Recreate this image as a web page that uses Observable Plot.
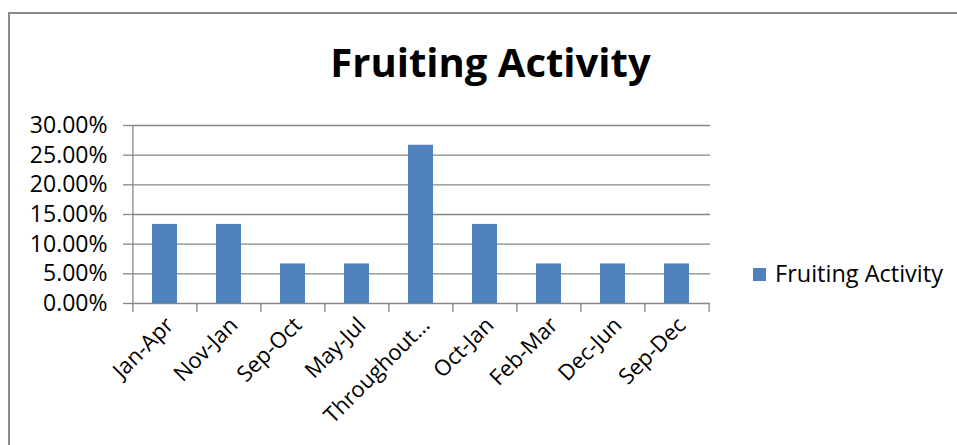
<!DOCTYPE html>
<html>
<head>
<meta charset="utf-8">
<script src="https://cdn.jsdelivr.net/npm/d3@7"></script>
<script src="https://cdn.jsdelivr.net/npm/@observablehq/plot@0.6"></script>
<style>
  html, body { margin: 0; padding: 0; background: #fff; }
  #wrap { position: relative; width: 957px; height: 445px; overflow: hidden; font-family: "Open Sans", sans-serif; color: #000; }
  #border { position: absolute; left: 8px; top: 12px; width: 1200px; height: 1200px; border-left: 2px solid #8a8a8a; border-top: 2px solid #8a8a8a; box-sizing: border-box; }
  #chart { position: absolute; left: 0; top: 0; }
  #title { position: absolute; left: 0; width: 981px; top: 42px; text-align: center; font-weight: 700; font-size: 40px; line-height: 1; white-space: nowrap; }
  #swatch { position: absolute; left: 753px; top: 268px; width: 13px; height: 13px; background: #4F81BD; }
  #legendText { position: absolute; left: 775px; top: 262px; font-size: 23.5px; line-height: 1; white-space: nowrap; }
</style>
</head>
<body>
<div id="wrap">
  <div id="border"></div>
  <div id="chart"></div>
  <div id="title"></div>
  <div id="swatch"></div>
  <div id="legendText"></div>
</div>
<script>
const titleText = "Fruiting Activity";
const seriesName = "Fruiting Activity";
const categories = ["Jan-Apr", "Nov-Jan", "Sep-Oct", "May-Jul", "Throughout…", "Oct-Jan", "Feb-Mar", "Dec-Jun", "Sep-Dec"];
const values = [0.1333, 0.1333, 0.0667, 0.0667, 0.2667, 0.1333, 0.0667, 0.0667, 0.0667];
const yTicks = [0, 0.05, 0.10, 0.15, 0.20, 0.25, 0.30];

const data = categories.map((c, i) => ({category: c, value: values[i]}));

const W = 957, H = 445;
const mL = 132, mR = 247, mT = 125, mB = 142;
const step = (W - mL - mR) / categories.length;
const gray = "#868686";

const chart = Plot.plot({
  width: W,
  height: H,
  marginLeft: mL,
  marginRight: mR,
  marginTop: mT,
  marginBottom: mB,
  style: {fontFamily: "'Open Sans', sans-serif", fontSize: "23px", color: "#000", background: "transparent", overflow: "visible"},
  x: {domain: categories, paddingInner: 0.605, paddingOuter: 0.3025, axis: null},
  y: {domain: [0, 0.3], axis: null},
  marks: [
    Plot.ruleY(yTicks, {stroke: gray, strokeWidth: 1.3}),
    Plot.ruleX(categories.slice(0, 1), {dx: -step / 2, stroke: gray, strokeWidth: 1.3}),
    Plot.barY(data, {x: "category", y: "value", fill: "#4F81BD"}),
    Plot.axisY({ticks: yTicks, tickFormat: d3.format(".2%"), tickSize: 9, tickPadding: 16, stroke: gray, strokeWidth: 1.3, fill: "#000", fontSize: 23, label: null}),
    Plot.axisX({tickSize: 9, tickFormat: () => "", dx: -step / 2, stroke: gray, strokeWidth: 1.3, label: null}),
    Plot.axisX(categories.slice(-1), {tickSize: 9, tickFormat: () => "", dx: step / 2, stroke: gray, strokeWidth: 1.3, label: null}),
    Plot.axisX({tickSize: 0, tickRotate: -45, tickPadding: 18, dx: 5, fill: "#000", fontSize: 22, label: null})
  ]
});

document.getElementById("chart").appendChild(chart);
document.getElementById("title").textContent = titleText;
document.getElementById("legendText").textContent = seriesName;
</script>
</body>
</html>
